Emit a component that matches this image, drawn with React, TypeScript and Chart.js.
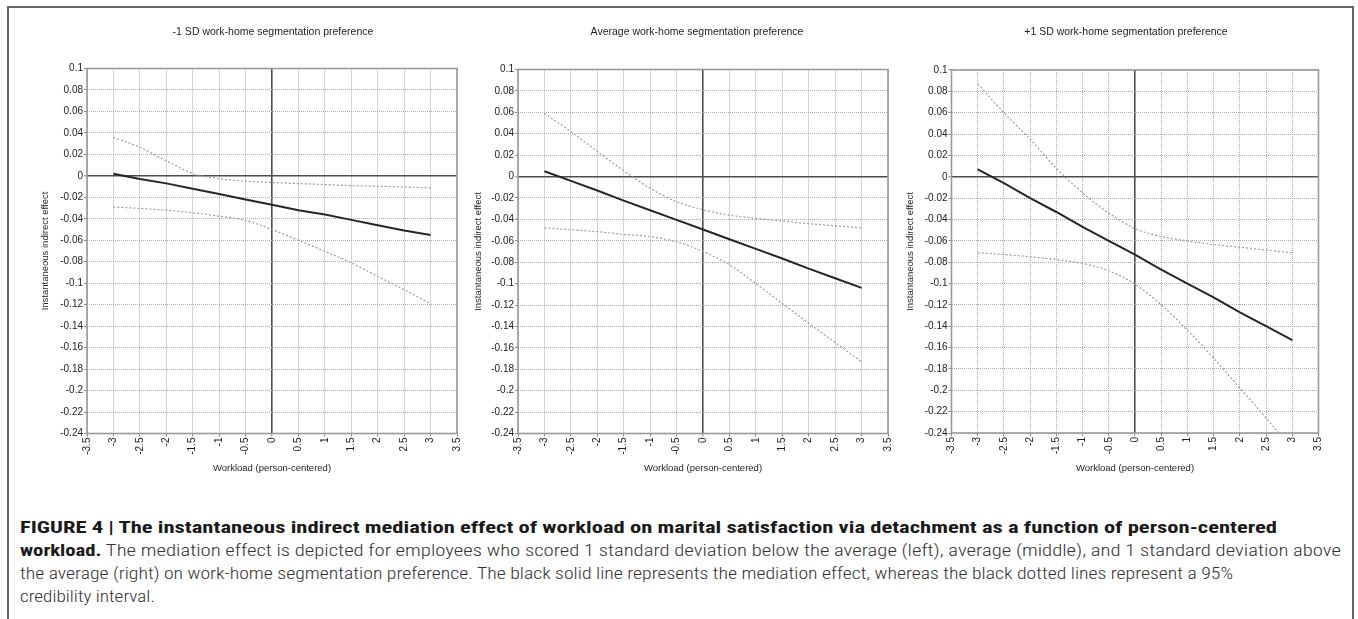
import React, { useEffect, useRef } from "react";
import { Chart, registerables } from "chart.js";

Chart.register(...registerables);

// ---------------- data ----------------
const workload = [-3, -2.5, -2, -1.5, -1, -0.5, 0, 0.5, 1, 1.5, 2, 2.5, 3];

// -1 SD segmentation preference
const effectLow = [0.002, -0.003, -0.007, -0.012, -0.017, -0.022, -0.027, -0.032, -0.036, -0.041, -0.046, -0.051, -0.055];
const upperLow = [0.036, 0.0266, 0.0141, 0.0022, -0.0025, -0.005, -0.0062, -0.0072, -0.0081, -0.0091, -0.0097, -0.0103, -0.0112];
const lowerLow = [-0.029, -0.0303, -0.032, -0.0344, -0.0375, -0.0415, -0.05, -0.06, -0.0703, -0.081, -0.0937, -0.106, -0.119];

// Average segmentation preference
const effectAvg = [0.005, -0.004, -0.013, -0.0225, -0.0315, -0.0405, -0.0495, -0.0585, -0.0675, -0.0765, -0.086, -0.095, -0.104];
const upperAvg = [0.059, 0.042, 0.0234, 0.0055, -0.011, -0.0235, -0.031, -0.036, -0.039, -0.0415, -0.044, -0.046, -0.048];
const lowerAvg = [-0.048, -0.0497, -0.0515, -0.054, -0.056, -0.061, -0.07, -0.0824, -0.1, -0.1185, -0.137, -0.155, -0.173];

// +1 SD segmentation preference
const effectHigh = [0.007, -0.006, -0.02, -0.033, -0.047, -0.06, -0.073, -0.087, -0.1, -0.113, -0.127, -0.14, -0.153];
const upperHigh = [0.087, 0.06, 0.035, 0.008, -0.015, -0.034, -0.0485, -0.056, -0.06, -0.0634, -0.066, -0.0687, -0.0712];
const lowerHigh = [-0.0712, -0.0728, -0.075, -0.0775, -0.0812, -0.088, -0.1006, -0.12, -0.1437, -0.17, -0.198, -0.226, -0.255];

const panelTitles = [
  "-1 SD work-home segmentation preference",
  "Average work-home segmentation preference",
  "+1 SD work-home segmentation preference",
];
const yAxisTitle = "Instantaneous indirect effect";
const xAxisTitle = "Workload (person-centered)";

const xTickLabels = ["-3.5", "-3", "-2.5", "-2", "-1.5", "-1", "-0.5", "0", "0.5", "1", "1.5", "2", "2.5", "3", "3.5"];
const yTickLabels = ["0.1", "0.08", "0.06", "0.04", "0.02", "0", "-0.02", "-0.04", "-0.06", "-0.08", "-0.1", "-0.12", "-0.14", "-0.16", "-0.18", "-0.2", "-0.22", "-0.24"];

const panelSeries = [
  { effect: effectLow, upper: upperLow, lower: lowerLow },
  { effect: effectAvg, upper: upperAvg, lower: lowerAvg },
  { effect: effectHigh, upper: upperHigh, lower: lowerHigh },
];

// ---------------- layout ----------------
const FONT = '"Liberation Sans", Arial, Helvetica, sans-serif';
const PANEL_W = 504;
const PANEL_H = 500;
const TITLE_SIZE = 10.5;
const AXIS_TITLE_SIZE = 9.5;
const TICK_SIZE = 10;
const TITLE_Y = 32.5;
const X_TITLE_Y = 468;

const panelLayouts = [
  { tc: 273, L: 87, R: 457, T: 68.5, B: 433.5, yTitleX: 45 },
  { tc: 697, L: 518, R: 888, T: 69.5, B: 433.5, yTitleX: 478 },
  { tc: 1125.5, L: 951, R: 1318, T: 70, B: 433, yTitleX: 910 },
];

const isZero = (c: any) => !!(c && c.tick && Math.abs(c.tick.value) < 1e-9);

const framePlugin = {
  id: "plotFrame",
  beforeDatasetsDraw(chart: any) {
    const { ctx, chartArea: a } = chart;
    ctx.save();
    ctx.setLineDash([]);
    ctx.strokeStyle = "#999999";
    ctx.lineWidth = 1.6;
    ctx.strokeRect(a.left, a.top, a.right - a.left, a.bottom - a.top);
    ctx.restore();
  },
};

function Panel({ idx }: { idx: number }) {
  const ref = useRef<HTMLCanvasElement>(null);
  const lay = panelLayouts[idx];
  const cL = lay.tc - PANEL_W / 2;

  useEffect(() => {
    const canvas = ref.current;
    if (!canvas) return;
    const s = panelSeries[idx];
    const yW = lay.L - cL;
    const rW = cL + PANEL_W - lay.R;
    const xH = PANEL_H - lay.B;
    const titleLH = TITLE_SIZE * 1.2;
    const axisLH = AXIS_TITLE_SIZE * 1.2;
    const titlePadTop = TITLE_Y - titleLH / 2;
    const titlePadBottom = lay.T - titlePadTop - titleLH;
    const yTitlePad = lay.yTitleX - cL - axisLH / 2;
    const xTitlePad = PANEL_H - X_TITLE_Y - axisLH / 2;
    const pts = (ys: number[]) => workload.map((x, i) => ({ x, y: ys[i] }));

    const grid = {
      display: true,
      drawOnChartArea: true,
      drawTicks: true,
      tickLength: 3,
      tickWidth: 1,
      tickColor: "#8a8a8a",
      color: (c: any) => (isZero(c) ? "#4d4d4d" : "#ababab"),
      lineWidth: (c: any) => (isZero(c) ? 1.6 : 1),
    };
    const border = {
      display: false,
      dash: (c: any) => (isZero(c) ? [] : [1, 1]),
    };
    const tickFont = { family: FONT, size: TICK_SIZE };
    const axisTitleFont = { family: FONT, size: AXIS_TITLE_SIZE };

    const chart = new Chart(canvas, {
      type: "scatter",
      data: {
        datasets: [
          {
            label: "upper",
            data: pts(s.upper),
            showLine: true,
            borderColor: "#9c9c9c",
            borderWidth: 1.2,
            borderDash: [2, 2],
            pointRadius: 0,
            cubicInterpolationMode: "monotone",
          },
          {
            label: "lower",
            data: pts(s.lower),
            showLine: true,
            borderColor: "#9c9c9c",
            borderWidth: 1.2,
            borderDash: [2, 2],
            pointRadius: 0,
            cubicInterpolationMode: "monotone",
          },
          {
            label: "effect",
            data: pts(s.effect),
            showLine: true,
            borderColor: "#262626",
            borderWidth: 2,
            pointRadius: 0,
          },
        ],
      },
      options: {
        responsive: false,
        animation: false,
        devicePixelRatio: 1,
        layout: { padding: 0 },
        plugins: {
          legend: { display: false },
          tooltip: { enabled: false },
          title: {
            display: true,
            text: panelTitles[idx],
            color: "#1e1e1e",
            font: { family: FONT, size: TITLE_SIZE, weight: "normal" },
            padding: { top: titlePadTop, bottom: titlePadBottom },
          },
        },
        scales: {
          x: {
            type: "linear",
            position: "bottom",
            min: -3.5,
            max: 3.5,
            grid,
            border,
            ticks: {
              stepSize: 0.5,
              autoSkip: false,
              minRotation: 90,
              maxRotation: 90,
              padding: 1,
              color: "#222222",
              font: tickFont,
              callback: (_v: any, i: number) => xTickLabels[i],
            },
            title: {
              display: true,
              text: xAxisTitle,
              color: "#1e1e1e",
              font: axisTitleFont,
              padding: { top: 0, bottom: xTitlePad },
            },
            afterFit: (sc: any) => {
              sc.height = xH;
            },
          },
          y: {
            type: "linear",
            position: "left",
            min: -0.24,
            max: 0.1,
            grid,
            border,
            ticks: {
              stepSize: 0.02,
              autoSkip: false,
              padding: 1,
              color: "#222222",
              font: tickFont,
              callback: (v: any) => {
                const l = yTickLabels.find((t) => Math.abs(parseFloat(t) - Number(v)) < 1e-9);
                return l === undefined ? "" : l;
              },
            },
            title: {
              display: true,
              text: yAxisTitle,
              color: "#1e1e1e",
              font: axisTitleFont,
              padding: { top: yTitlePad, bottom: 0 },
            },
            afterFit: (sc: any) => {
              sc.width = yW;
            },
          },
          y2: {
            type: "linear",
            axis: "y",
            position: "right",
            display: true,
            grid: { display: false, drawTicks: false },
            border: { display: false },
            ticks: { display: false },
            afterFit: (sc: any) => {
              sc.width = rW;
            },
          },
        },
      } as any,
      plugins: [framePlugin],
    });
    return () => chart.destroy();
  }, []);

  return (
    <canvas
      ref={ref}
      width={PANEL_W}
      height={PANEL_H}
      style={{ position: "absolute", left: cL, top: 0, width: PANEL_W, height: PANEL_H }}
    />
  );
}

const CAPTION_FONT = '"Roboto Condensed", "Liberation Sans Narrow", Roboto, "Liberation Sans", Arial, sans-serif';

export default function App() {
  useEffect(() => {
    const fit = () => {
      document.querySelectorAll<HTMLElement>("[data-fitw]").forEach((el) => {
        el.style.transform = "none";
        const w = el.getBoundingClientRect().width;
        const t = parseFloat(el.dataset.fitw || "0");
        if (w > 0) el.style.transform = `scaleX(${t / w})`;
      });
    };
    fit();
    const f: any = (document as any).fonts;
    if (f && f.ready) f.ready.then(fit);
  }, []);

  const lineStyle = (top: number): React.CSSProperties => ({
    position: "absolute",
    left: 20,
    top,
    height: 23,
    lineHeight: "23px",
    fontFamily: CAPTION_FONT,
    fontSize: 16.5,
    fontWeight: 300,
    color: "#333333",
    whiteSpace: "nowrap",
  });
  const spanStyle: React.CSSProperties = { display: "inline-block", transformOrigin: "0 50%", whiteSpace: "nowrap" };
  const bold: React.CSSProperties = { fontWeight: 700, color: "#1a1a1a" };

  return (
    <div
      style={{
        position: "fixed",
        left: 0,
        top: 0,
        width: 1358,
        height: 619,
        overflow: "hidden",
        background: "#ffffff",
      }}
    >
      <div
        style={{
          position: "absolute",
          left: 7,
          top: 6,
          width: 1347,
          height: 700,
          boxSizing: "border-box",
          borderTop: "2px solid #666",
          borderLeft: "2px solid #666",
          borderRight: "2px solid #666",
        }}
      />
      <Panel idx={0} />
      <Panel idx={1} />
      <Panel idx={2} />
      <div style={lineStyle(515.5)}>
        <span data-fitw="1257" style={{ ...spanStyle, ...bold }}>
          FIGURE 4 | The instantaneous indirect mediation effect of workload on marital satisfaction via detachment as a function of person-centered
        </span>
      </div>
      <div style={lineStyle(538.5)}>
        <span data-fitw="1321" style={spanStyle}>
          <span style={bold}>workload.</span> The mediation effect is depicted for employees who scored 1 standard deviation below the average (left), average (middle), and 1 standard deviation above
        </span>
      </div>
      <div style={lineStyle(561.5)}>
        <span data-fitw="1213" style={spanStyle}>
          the average (right) on work-home segmentation preference. The black solid line represents the mediation effect, whereas the black dotted lines represent a 95%
        </span>
      </div>
      <div style={lineStyle(584.5)}>
        <span data-fitw="135" style={spanStyle}>
          credibility interval.
        </span>
      </div>
    </div>
  );
}
